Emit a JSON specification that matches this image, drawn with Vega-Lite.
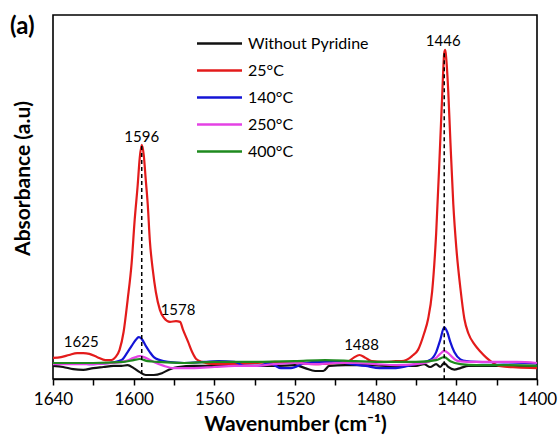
{
  "$schema": "https://vega.github.io/schema/vega-lite/v6.json",
  "width": 484,
  "height": 364,
  "autosize": "none",
  "padding": {"left": 53, "top": 15, "right": 23, "bottom": 65},
  "background": "white",
  "title": {"text": "(a)", "anchor": "start", "frame": "group", "dx": -43, "offset": -43, "baseline": "alphabetic", "font": "Lato", "fontSize": 24, "fontWeight": "bold", "color": "#000000"},
  "config": {
    "view": {"stroke": "#000000", "strokeWidth": 1.6},
    "font": "Lato",
    "axis": {"grid": false}
  },
  "datasets": {
    "spectra": [
      {"s":"Without Pyridine","x":1640,"y":3.6},{"s":"Without Pyridine","x":1635,"y":3.3},{"s":"Without Pyridine","x":1630,"y":2.7},{"s":"Without Pyridine","x":1625,"y":2.5},{"s":"Without Pyridine","x":1620,"y":3.0},{"s":"Without Pyridine","x":1615,"y":3.3},{"s":"Without Pyridine","x":1610,"y":3.6},{"s":"Without Pyridine","x":1606,"y":3.6},{"s":"Without Pyridine","x":1603,"y":3.8},{"s":"Without Pyridine","x":1600,"y":3.0},{"s":"Without Pyridine","x":1597,"y":1.9},{"s":"Without Pyridine","x":1594,"y":1.1},{"s":"Without Pyridine","x":1590,"y":1.1},{"s":"Without Pyridine","x":1586,"y":1.6},{"s":"Without Pyridine","x":1582,"y":2.7},{"s":"Without Pyridine","x":1578,"y":3.3},{"s":"Without Pyridine","x":1570,"y":3.6},{"s":"Without Pyridine","x":1560,"y":3.6},{"s":"Without Pyridine","x":1545,"y":3.6},{"s":"Without Pyridine","x":1530,"y":3.6},{"s":"Without Pyridine","x":1520,"y":3.8},{"s":"Without Pyridine","x":1515,"y":3.0},{"s":"Without Pyridine","x":1510,"y":2.2},{"s":"Without Pyridine","x":1506,"y":2.2},{"s":"Without Pyridine","x":1503,"y":3.6},{"s":"Without Pyridine","x":1495,"y":3.8},{"s":"Without Pyridine","x":1485,"y":3.8},{"s":"Without Pyridine","x":1470,"y":3.6},{"s":"Without Pyridine","x":1460,"y":3.6},{"s":"Without Pyridine","x":1456,"y":4.1},{"s":"Without Pyridine","x":1453,"y":3.3},{"s":"Without Pyridine","x":1450,"y":4.1},{"s":"Without Pyridine","x":1448,"y":3.3},{"s":"Without Pyridine","x":1446,"y":4.4},{"s":"Without Pyridine","x":1444,"y":3.3},{"s":"Without Pyridine","x":1441,"y":2.6},{"s":"Without Pyridine","x":1438,"y":3.0},{"s":"Without Pyridine","x":1434,"y":3.6},{"s":"Without Pyridine","x":1420,"y":3.6},{"s":"Without Pyridine","x":1400,"y":3.6},

      {"s":"25°C","x":1640,"y":5.8},{"s":"25°C","x":1636,"y":6.0},{"s":"25°C","x":1632,"y":6.6},{"s":"25°C","x":1628,"y":7.1},{"s":"25°C","x":1625,"y":7.1},{"s":"25°C","x":1622,"y":6.9},{"s":"25°C","x":1618,"y":6.0},{"s":"25°C","x":1614,"y":5.2},{"s":"25°C","x":1611,"y":5.2},{"s":"25°C","x":1609,"y":6.0},{"s":"25°C","x":1607,"y":8.0},{"s":"25°C","x":1605,"y":12.9},{"s":"25°C","x":1603,"y":21.7},{"s":"25°C","x":1601,"y":31.9},{"s":"25°C","x":1599.5,"y":43.7},{"s":"25°C","x":1598,"y":53.3},{"s":"25°C","x":1597,"y":60.7},{"s":"25°C","x":1596,"y":64.3},{"s":"25°C","x":1595,"y":61.5},{"s":"25°C","x":1594,"y":54.7},{"s":"25°C","x":1593,"y":47.8},{"s":"25°C","x":1592,"y":38.2},{"s":"25°C","x":1590.5,"y":29.9},{"s":"25°C","x":1589,"y":23.9},{"s":"25°C","x":1587,"y":19.0},{"s":"25°C","x":1585,"y":16.8},{"s":"25°C","x":1582,"y":15.7},{"s":"25°C","x":1579,"y":15.9},{"s":"25°C","x":1577,"y":15.7},{"s":"25°C","x":1575.5,"y":13.5},{"s":"25°C","x":1573,"y":10.2},{"s":"25°C","x":1571,"y":7.4},{"s":"25°C","x":1569,"y":5.5},{"s":"25°C","x":1566,"y":4.7},{"s":"25°C","x":1560,"y":4.1},{"s":"25°C","x":1550,"y":4.1},{"s":"25°C","x":1540,"y":4.4},{"s":"25°C","x":1530,"y":4.7},{"s":"25°C","x":1520,"y":4.4},{"s":"25°C","x":1510,"y":4.1},{"s":"25°C","x":1500,"y":4.4},{"s":"25°C","x":1494,"y":4.7},{"s":"25°C","x":1491,"y":5.8},{"s":"25°C","x":1488,"y":6.6},{"s":"25°C","x":1485,"y":5.8},{"s":"25°C","x":1482,"y":4.9},{"s":"25°C","x":1476,"y":4.7},{"s":"25°C","x":1470,"y":4.9},{"s":"25°C","x":1466,"y":5.0},{"s":"25°C","x":1462,"y":6.3},{"s":"25°C","x":1459,"y":8.0},{"s":"25°C","x":1456,"y":12.5},{"s":"25°C","x":1454,"y":16.5},{"s":"25°C","x":1452,"y":24.0},{"s":"25°C","x":1450,"y":40.0},{"s":"25°C","x":1448,"y":65.0},{"s":"25°C","x":1447,"y":78.0},{"s":"25°C","x":1446,"y":89.5},{"s":"25°C","x":1445.5,"y":90.4},{"s":"25°C","x":1445,"y":88.0},{"s":"25°C","x":1444,"y":79.0},{"s":"25°C","x":1443,"y":66.0},{"s":"25°C","x":1441.5,"y":48.0},{"s":"25°C","x":1440,"y":36.0},{"s":"25°C","x":1438,"y":25.0},{"s":"25°C","x":1436,"y":16.5},{"s":"25°C","x":1434,"y":12.5},{"s":"25°C","x":1431,"y":9.5},{"s":"25°C","x":1428,"y":7.5},{"s":"25°C","x":1425,"y":5.8},{"s":"25°C","x":1422,"y":4.5},{"s":"25°C","x":1418,"y":3.5},{"s":"25°C","x":1410,"y":3.2},{"s":"25°C","x":1400,"y":3.0},

      {"s":"140°C","x":1640,"y":4.4},{"s":"140°C","x":1630,"y":4.4},{"s":"140°C","x":1620,"y":4.1},{"s":"140°C","x":1612,"y":4.4},{"s":"140°C","x":1606,"y":5.2},{"s":"140°C","x":1603,"y":7.4},{"s":"140°C","x":1601,"y":9.1},{"s":"140°C","x":1599,"y":10.7},{"s":"140°C","x":1597.5,"y":11.5},{"s":"140°C","x":1596,"y":11.0},{"s":"140°C","x":1594,"y":9.1},{"s":"140°C","x":1592,"y":7.4},{"s":"140°C","x":1590,"y":6.0},{"s":"140°C","x":1587,"y":5.2},{"s":"140°C","x":1583,"y":4.7},{"s":"140°C","x":1575,"y":4.4},{"s":"140°C","x":1565,"y":4.7},{"s":"140°C","x":1558,"y":4.9},{"s":"140°C","x":1550,"y":4.7},{"s":"140°C","x":1545,"y":3.6},{"s":"140°C","x":1538,"y":3.6},{"s":"140°C","x":1533,"y":4.4},{"s":"140°C","x":1527,"y":3.0},{"s":"140°C","x":1522,"y":3.0},{"s":"140°C","x":1515,"y":4.4},{"s":"140°C","x":1508,"y":4.7},{"s":"140°C","x":1500,"y":4.7},{"s":"140°C","x":1492,"y":4.1},{"s":"140°C","x":1485,"y":3.6},{"s":"140°C","x":1478,"y":3.0},{"s":"140°C","x":1470,"y":3.0},{"s":"140°C","x":1464,"y":3.6},{"s":"140°C","x":1458,"y":4.4},{"s":"140°C","x":1453,"y":5.2},{"s":"140°C","x":1450,"y":7.4},{"s":"140°C","x":1448,"y":10.7},{"s":"140°C","x":1446,"y":14.2},{"s":"140°C","x":1444.5,"y":12.9},{"s":"140°C","x":1443,"y":10.2},{"s":"140°C","x":1441,"y":7.4},{"s":"140°C","x":1438,"y":5.4},{"s":"140°C","x":1435,"y":4.9},{"s":"140°C","x":1430,"y":4.7},{"s":"140°C","x":1420,"y":4.6},{"s":"140°C","x":1410,"y":4.5},{"s":"140°C","x":1400,"y":4.3},

      {"s":"250°C","x":1640,"y":4.1},{"s":"250°C","x":1630,"y":4.1},{"s":"250°C","x":1620,"y":4.1},{"s":"250°C","x":1610,"y":4.4},{"s":"250°C","x":1604,"y":4.9},{"s":"250°C","x":1600,"y":5.8},{"s":"250°C","x":1597,"y":6.3},{"s":"250°C","x":1594,"y":5.8},{"s":"250°C","x":1590,"y":4.7},{"s":"250°C","x":1585,"y":3.6},{"s":"250°C","x":1580,"y":3.0},{"s":"250°C","x":1570,"y":3.0},{"s":"250°C","x":1560,"y":3.3},{"s":"250°C","x":1550,"y":3.6},{"s":"250°C","x":1540,"y":3.6},{"s":"250°C","x":1530,"y":4.1},{"s":"250°C","x":1520,"y":4.4},{"s":"250°C","x":1510,"y":4.1},{"s":"250°C","x":1500,"y":4.4},{"s":"250°C","x":1490,"y":4.4},{"s":"250°C","x":1480,"y":4.1},{"s":"250°C","x":1470,"y":3.8},{"s":"250°C","x":1460,"y":4.1},{"s":"250°C","x":1454,"y":4.7},{"s":"250°C","x":1450,"y":5.8},{"s":"250°C","x":1448,"y":6.9},{"s":"250°C","x":1446,"y":7.7},{"s":"250°C","x":1444,"y":7.1},{"s":"250°C","x":1442,"y":6.0},{"s":"250°C","x":1439,"y":4.9},{"s":"250°C","x":1434,"y":4.7},{"s":"250°C","x":1425,"y":4.7},{"s":"250°C","x":1410,"y":4.7},{"s":"250°C","x":1400,"y":4.4},

      {"s":"400°C","x":1640,"y":4.4},{"s":"400°C","x":1620,"y":4.4},{"s":"400°C","x":1605,"y":4.7},{"s":"400°C","x":1600,"y":5.2},{"s":"400°C","x":1597,"y":5.5},{"s":"400°C","x":1593,"y":4.9},{"s":"400°C","x":1588,"y":4.7},{"s":"400°C","x":1575,"y":4.4},{"s":"400°C","x":1560,"y":4.7},{"s":"400°C","x":1540,"y":4.7},{"s":"400°C","x":1520,"y":4.9},{"s":"400°C","x":1505,"y":5.2},{"s":"400°C","x":1490,"y":4.9},{"s":"400°C","x":1475,"y":4.7},{"s":"400°C","x":1460,"y":4.7},{"s":"400°C","x":1450,"y":5.2},{"s":"400°C","x":1446,"y":6.0},{"s":"400°C","x":1443,"y":4.9},{"s":"400°C","x":1438,"y":4.1},{"s":"400°C","x":1430,"y":3.8},{"s":"400°C","x":1415,"y":3.8},{"s":"400°C","x":1400,"y":3.6}
    ],
    "peaks": [
      {"x": 1596, "top": 64.0},
      {"x": 1446, "top": 89.5}
    ],
    "labels": [
      {"x": 1626, "y": 10.2, "t": "1625"},
      {"x": 1596, "y": 66.5, "t": "1596"},
      {"x": 1578, "y": 19.0, "t": "1578"},
      {"x": 1487, "y": 9.3, "t": "1488"},
      {"x": 1446.5, "y": 92.9, "t": "1446"}
    ]
  },
  "layer": [
    {
      "data": {"name": "spectra"},
      "mark": {"type": "line", "strokeWidth": 2.2, "interpolate": "monotone"},
      "encoding": {
        "x": {
          "field": "x", "type": "quantitative",
          "scale": {"domain": [1400, 1640], "reverse": true, "nice": false, "zero": false},
          "axis": {
            "title": "Wavenumber (cm⁻¹)",
            "values": [1640, 1620, 1600, 1580, 1560, 1540, 1520, 1500, 1480, 1460, 1440, 1420, 1400],
            "labelExpr": "datum.value % 40 == 0 ? datum.label : ''",
            "format": "d",
            "domainColor": "#000000", "domainWidth": 1.6,
            "tickColor": "#000000", "tickWidth": 1.5, "tickSize": 6,
            "labelFont": "Lato", "labelFontSize": 17, "labelColor": "#000000", "labelPadding": 6, "labelFlush": false, "labelOverlap": false,
            "titleFont": "Lato", "titleFontSize": 21, "titleFontWeight": "bold", "titleColor": "#000000", "titlePadding": 6
          }
        },
        "y": {
          "field": "y", "type": "quantitative",
          "scale": {"domain": [0, 100], "nice": false},
          "axis": {
            "title": "Absorbance (a.u)",
            "labels": false, "ticks": false, "domain": false,
            "titleFont": "Lato", "titleFontSize": 21, "titleFontWeight": "bold", "titleColor": "#000000",
            "titleX": -30, "titleY": 163, "titleBaseline": "middle", "titleAngle": -90, "titleAlign": "center"
          }
        },
        "color": {
          "field": "s", "type": "nominal",
          "scale": {
            "domain": ["Without Pyridine", "25°C", "140°C", "250°C", "400°C"],
            "range": ["#111111", "#e31b1b", "#1414d6", "#e442e4", "#1e8a1e"]
          },
          "legend": {
            "title": null, "orient": "none", "legendX": 156, "legendY": 18,
            "symbolType": "M-2.5,0H2.5", "symbolSize": 324, "symbolStrokeWidth": 2.5,
            "labelOffset": 18, "labelFont": "Lato", "labelFontSize": 16, "labelColor": "#000000",
            "rowPadding": 8, "padding": 0, "labelLimit": 300
          }
        },
        "order": {"field": "s", "sort": "ascending"}
      }
    },
    {
      "data": {"name": "peaks"},
      "mark": {"type": "rule", "strokeDash": [4, 3], "strokeWidth": 1.5, "color": "#000000"},
      "encoding": {
        "x": {"field": "x", "type": "quantitative"},
        "y": {"field": "top", "type": "quantitative"},
        "y2": {"datum": 0}
      }
    },
    {
      "data": {"name": "labels"},
      "mark": {"type": "text", "font": "Lato", "fontSize": 15, "color": "#000000", "baseline": "middle", "align": "center"},
      "encoding": {
        "x": {"field": "x", "type": "quantitative"},
        "y": {"field": "y", "type": "quantitative"},
        "text": {"field": "t"}
      }
    }
  ]
}
